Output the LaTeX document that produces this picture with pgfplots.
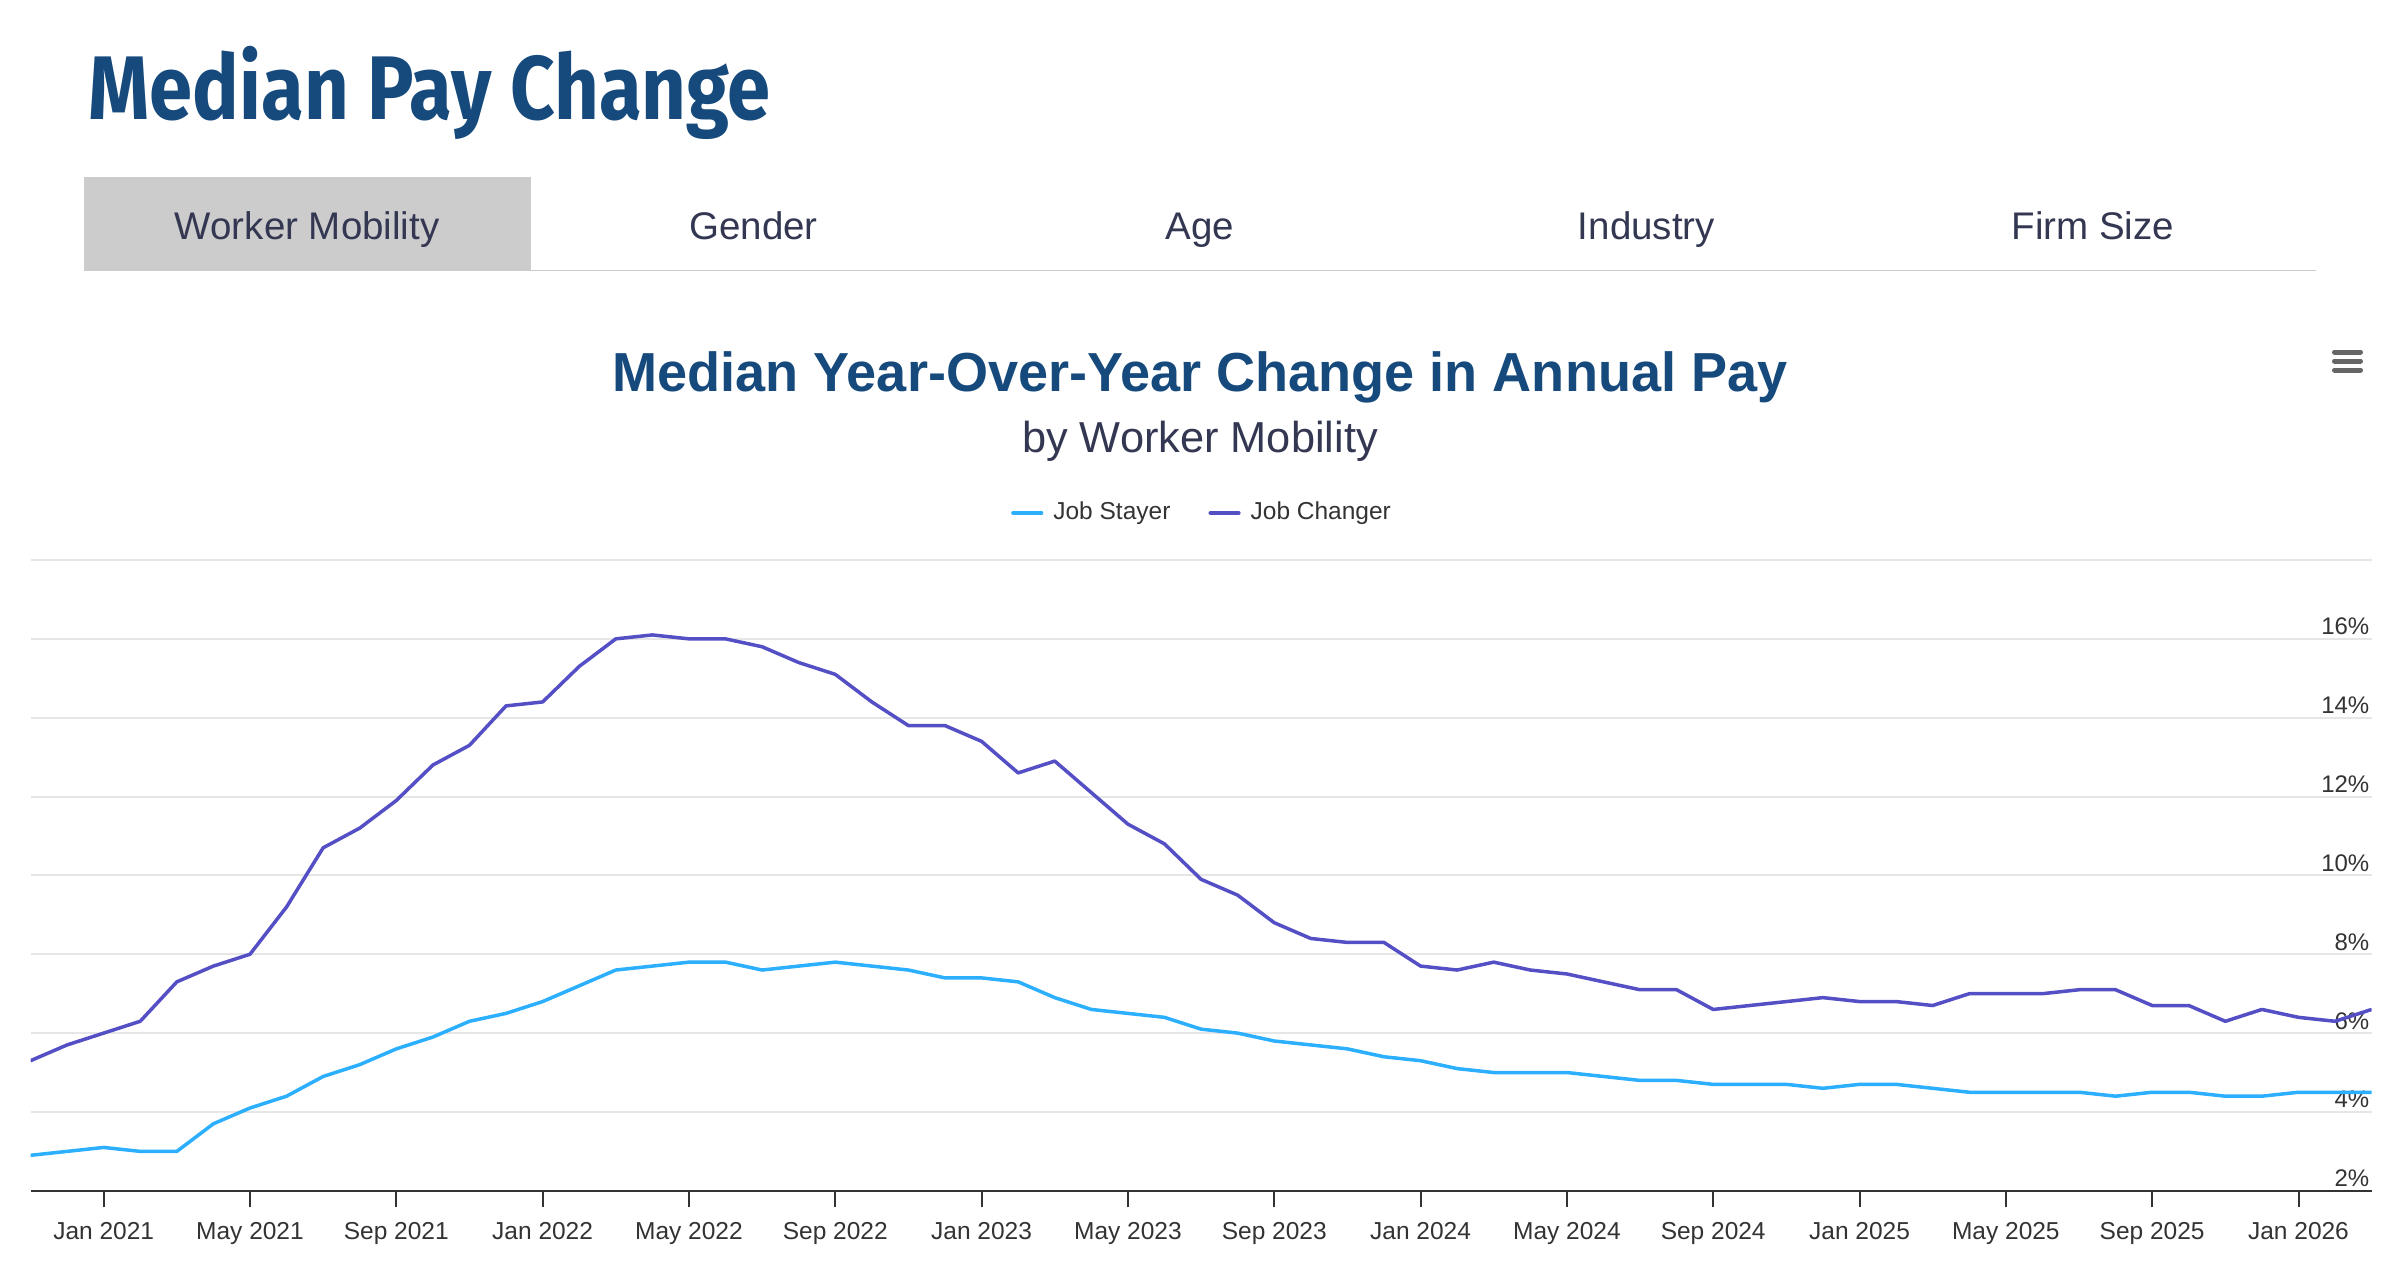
\documentclass[border=0pt]{standalone}
\usepackage{fontspec}
\setmainfont{Liberation Sans}
\newfontfamily\titlefont{Fira Sans}[FakeStretch=0.85]
\usepackage{pgfplots}
\usepackage{graphicx}
\pgfplotsset{compat=1.18}

\definecolor{ttl}{HTML}{164A7C}
\definecolor{sub}{HTML}{333752}
\definecolor{txt}{HTML}{333333}
\definecolor{grd}{HTML}{E6E6E6}
\definecolor{stayer}{HTML}{2CAFFE}
\definecolor{changer}{HTML}{544FC5}
\definecolor{tabbg}{HTML}{CCCCCC}
\definecolor{menu}{HTML}{666666}

\newlength\tw
\newcommand\fitw[2]{\settowidth\tw{#2}\pgfmathsetmacro\sx{#1*0.3/\tw}\scalebox{\sx}[1]{#2}}

% month index: 0 = Jan 2021
\pgfplotstableread{
x y
-2 2.9
-1 3.0
0 3.1
1 3.0
2 3.0
3 3.7
4 4.1
5 4.4
6 4.9
7 5.2
8 5.6
9 5.9
10 6.3
11 6.5
12 6.8
13 7.2
14 7.6
15 7.7
16 7.8
17 7.8
18 7.6
19 7.7
20 7.8
21 7.7
22 7.6
23 7.4
24 7.4
25 7.3
26 6.9
27 6.6
28 6.5
29 6.4
30 6.1
31 6.0
32 5.8
33 5.7
34 5.6
35 5.4
36 5.3
37 5.1
38 5.0
39 5.0
40 5.0
41 4.9
42 4.8
43 4.8
44 4.7
45 4.7
46 4.7
47 4.6
48 4.7
49 4.7
50 4.6
51 4.5
52 4.5
53 4.5
54 4.5
55 4.4
56 4.5
57 4.5
58 4.4
59 4.4
60 4.5
61 4.5
62 4.5
}\stayertab

\pgfplotstableread{
x y
-2 5.3
-1 5.7
0 6.0
1 6.3
2 7.3
3 7.7
4 8.0
5 9.2
6 10.7
7 11.2
8 11.9
9 12.8
10 13.3
11 14.3
12 14.4
13 15.3
14 16.0
15 16.1
16 16.0
17 16.0
18 15.8
19 15.4
20 15.1
21 14.4
22 13.8
23 13.8
24 13.4
25 12.6
26 12.9
27 12.1
28 11.3
29 10.8
30 9.9
31 9.5
32 8.8
33 8.4
34 8.3
35 8.3
36 7.7
37 7.6
38 7.8
39 7.6
40 7.5
41 7.3
42 7.1
43 7.1
44 6.6
45 6.7
46 6.8
47 6.9
48 6.8
49 6.8
50 6.7
51 7.0
52 7.0
53 7.0
54 7.1
55 7.1
56 6.7
57 6.7
58 6.3
59 6.6
60 6.4
61 6.3
62 6.6
}\changertab

\begin{document}
\begin{tikzpicture}[x=0.3pt,y=-0.3pt]
\path[use as bounding box] (0,0) rectangle (2402,1262);

% page title
\node[anchor=base west, inner sep=0pt, text=ttl] at (88,119)
  {\fitw{682}{\titlefont\bfseries\fontsize{27.1pt}{30pt}\selectfont Median Pay Change}};

% tabs
\draw[draw=tabbg, line width=0.5pt] (84,270.5) -- (2316,270.5);
\fill[tabbg] (84,177) rectangle (531,271);
\foreach \cx/\lab in {307.2/Worker Mobility, 753.6/Gender, 1200/Age, 1646.4/Industry, 2092.8/Firm Size}
  \node[anchor=base, inner sep=0pt, text=sub, font=\fontsize{11.55pt}{13pt}\selectfont] at (\cx,239) {\lab};

% chart title and subtitle
\node[anchor=base, inner sep=0pt, text=ttl] at (1200,391.7)
  {\fitw{1175}{\bfseries\fontsize{16.5pt}{19pt}\selectfont Median Year-Over-Year Change in Annual Pay}};
\node[anchor=base, inner sep=0pt, text=sub, font=\fontsize{13pt}{15pt}\selectfont] at (1200,452.7) {by Worker Mobility};

% menu icon
\foreach \yy in {352,361,370}
  \draw[menu, line width=1.5pt, line cap=round] (2334.5,\yy) -- (2360.5,\yy);

\coordinate (axorig) at (30.5,1190.8);

\begin{axis}[
  at={(axorig)}, anchor=south west, scale only axis,
  width=702.36pt, height=189.24pt,
  xmin=-2, xmax=62, ymin=2, ymax=18,
  axis x line*=bottom, axis y line*=right,
  x axis line style={draw=txt, line width=0.6pt},
  y axis line style={draw=none},
  xtick={0,4,...,60},
  xticklabels={Jan 2021,May 2021,Sep 2021,Jan 2022,May 2022,Sep 2022,Jan 2023,May 2023,Sep 2023,Jan 2024,May 2024,Sep 2024,Jan 2025,May 2025,Sep 2025,Jan 2026},
  tick align=outside, major tick length=5pt,
  xtick style={draw=txt, line width=0.6pt},
  ytick={2,4,...,18},
  yticklabels={2\%,4\%,6\%,8\%,10\%,12\%,14\%,16\%,{}},
  ytick style={draw=none},
  ymajorgrids, grid style={draw=grd, line width=0.6pt},
  xticklabel style={anchor=base, yshift=-9.55pt, inner sep=0pt, text=txt, font=\fontsize{7.35pt}{9pt}\selectfont},
  yticklabel style={anchor=base east, xshift=-5.5pt, yshift=1.2pt, inner sep=0pt, text=txt, font=\fontsize{7.2pt}{9pt}\selectfont},
  legend columns=2,
  legend style={at={(axis description cs:0.5,1)}, anchor=south, yshift=10.5pt,
    draw=none, fill=none, inner sep=0pt, text=txt,
    font=\fontsize{7.35pt}{9pt}\selectfont, nodes={inner sep=0pt},
    /tikz/every odd column/.append style={column sep=3pt},
    /tikz/every even column/.append style={column sep=11.4pt}},
  legend image code/.code={\draw[#1, line width=1.05pt, line cap=round] (0pt,0pt) -- (8.6pt,0pt);},
]
\addplot[stayer, line width=1.05pt, line join=round] table[x=x,y=y] {\stayertab};
\addlegendentry{Job Stayer}
\addplot[changer, line width=1.05pt, line join=round] table[x=x,y=y] {\changertab};
\addlegendentry{Job Changer}
\end{axis}
\end{tikzpicture}
\end{document}
